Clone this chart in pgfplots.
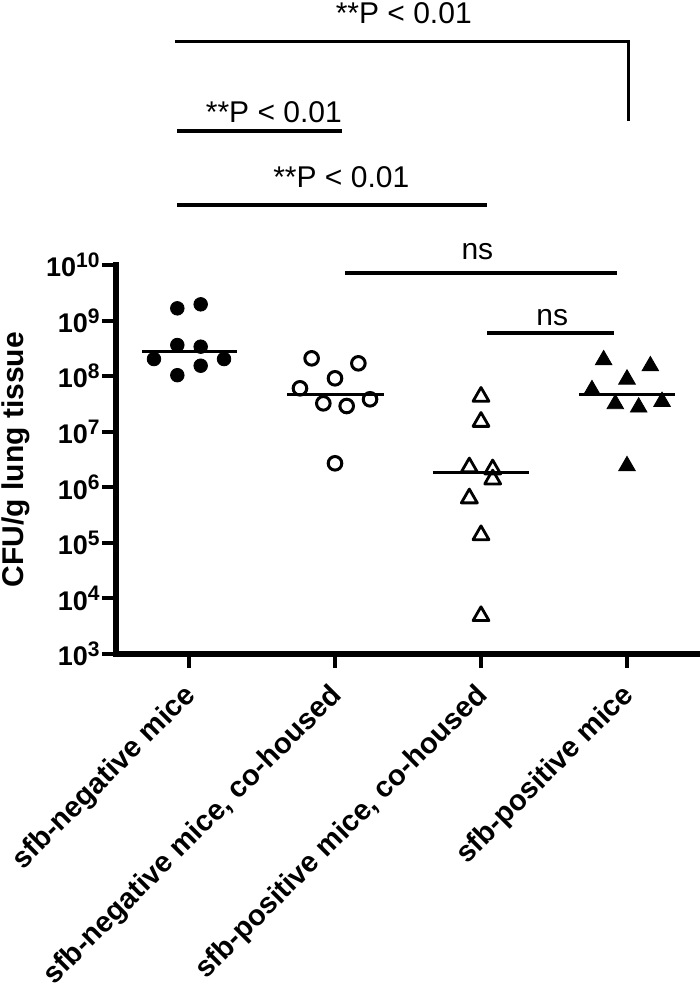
\documentclass[border=0pt]{standalone}
\usepackage{fontspec}
\setmainfont{Liberation Sans}
\usepackage{pgfplots}
\pgfplotsset{compat=1.18}
\newcommand{\tl}[1]{10\raisebox{4.6pt}{\fontsize{10.5}{10}\selectfont\bfseries #1}}
\begin{document}
\begin{tikzpicture}
\path[use as bounding box] (-58pt,-170pt) rectangle (292pt,327pt);
\begin{axis}[
  at={(0pt,0pt)}, anchor=south west,
  scale only axis, width=292pt, height=194.5pt,
  xmin=-0.5, xmax=3.5, ymode=log, ymin=1e3, ymax=1e10,
  axis lines*=left,
  axis line style={line width=2.8pt, line cap=rect},
  tick style={black, line width=2pt},
  major tick length=7pt, tick align=outside,
  xtick={0,1,2,3},
  xticklabels={sfb-negative mice, {sfb-negative mice, co-housed}, {sfb-positive mice, co-housed}, sfb-positive mice},
  xticklabel style={yshift=-11pt, xshift=2pt, rotate=45, anchor=east, font=\bfseries\fontsize{14.5}{16}\selectfont, inner sep=1pt},
  ytick={1e3,1e4,1e5,1e6,1e7,1e8,1e9,1e10},
  yticklabels={\tl{3},\tl{4},\tl{5},\tl{6},\tl{7},\tl{8},\tl{9},\tl{10}},
  yminorticks=false,
  yticklabel style={font=\bfseries\fontsize{13.5}{14}\selectfont, inner sep=1pt},
  ylabel={CFU/g lung tissue},
  ylabel style={at={(axis description cs:-0.158,0.5)}, anchor=base, font=\bfseries\fontsize{15}{18}\selectfont},
  clip=false,
]
% sfb-negative mice
\addplot[only marks, mark=*, mark size=3.4pt, mark options={fill=black, draw=black, line width=0.4pt}] coordinates {
(-0.08,1.66e9) (0.08,1.96e9) (-0.08,3.63e8) (0.08,3.39e8)
(-0.24,2.03e8) (0.08,1.54e8) (0.24,2.03e8) (-0.08,1.04e8)};
\addplot[no marks, black, line width=1.5pt] coordinates {(-0.32,2.75e8) (0.33,2.75e8)};
% sfb-negative mice, co-housed
\addplot[only marks, mark=o, mark size=3.4pt, mark options={draw=black, fill=white, line width=1.5pt}] coordinates {
(0.84,2.09e8) (1.16,1.70e8) (1.00,9.14e7) (0.76,6.04e7)
(0.92,3.24e7) (1.08,2.90e7) (1.24,3.83e7) (1.00,2.70e6)};
\addplot[no marks, black, line width=1.5pt] coordinates {(0.67,4.77e7) (1.333,4.77e7)};
% sfb-positive mice, co-housed
\addplot[only marks, mark=triangle, mark size=4.6pt, mark options={draw=black, fill=white, line width=1.4pt, line join=round}] coordinates {
(2.00,4.27e7) (2.00,1.51e7) (1.92,2.29e6) (2.08,2.11e6)
(2.08,1.39e6) (1.92,6.34e5) (2.00,1.38e5) (2.00,4.83e3)};
\addplot[no marks, black, line width=1.5pt] coordinates {(1.67,1.88e6) (2.33,1.88e6)};
% sfb-positive mice
\addplot[only marks, mark=triangle*, mark size=4.8pt, mark options={draw=black, fill=black, line width=0.4pt}] coordinates {
(2.84,1.95e8) (3.16,1.52e8) (3.00,8.77e7) (2.76,5.64e7)
(2.92,3.16e7) (3.08,2.75e7) (3.24,3.47e7) (3.00,2.42e6)};
\addplot[no marks, black, line width=1.5pt] coordinates {(2.67,4.77e7) (3.33,4.77e7)};
% significance brackets
\draw[line width=1.6pt] (axis cs:-0.094,1.04e14) -- (axis cs:3.009,1.04e14) -- (axis cs:3.009,3.9e12);
\draw[line width=1.6pt] (axis cs:-0.080,2.58e12) -- (axis cs:1.050,2.58e12);
\draw[line width=1.6pt] (axis cs:-0.080,1.20e11) -- (axis cs:2.043,1.20e11);
\draw[line width=1.6pt] (axis cs:1.070,7.18e9) -- (axis cs:2.934,7.18e9);
\draw[line width=1.6pt] (axis cs:2.043,5.97e8) -- (axis cs:2.913,5.97e8);
\node[anchor=base, font=\fontsize{15}{18}\selectfont] at (axis cs:1.471,2.26e14) {**P < 0.01};
\node[anchor=base, font=\fontsize{15}{18}\selectfont] at (axis cs:0.581,3.74e12) {**P < 0.01};
\node[anchor=base, font=\fontsize{15}{18}\selectfont] at (axis cs:1.043,2.43e11) {**P < 0.01};
\node[anchor=base, font=\fontsize{15}{18}\selectfont] at (axis cs:1.975,1.23e10) {ns};
\node[anchor=base, font=\fontsize{15}{18}\selectfont] at (axis cs:2.488,8.3e8) {ns};
\end{axis}
\end{tikzpicture}
\end{document}
